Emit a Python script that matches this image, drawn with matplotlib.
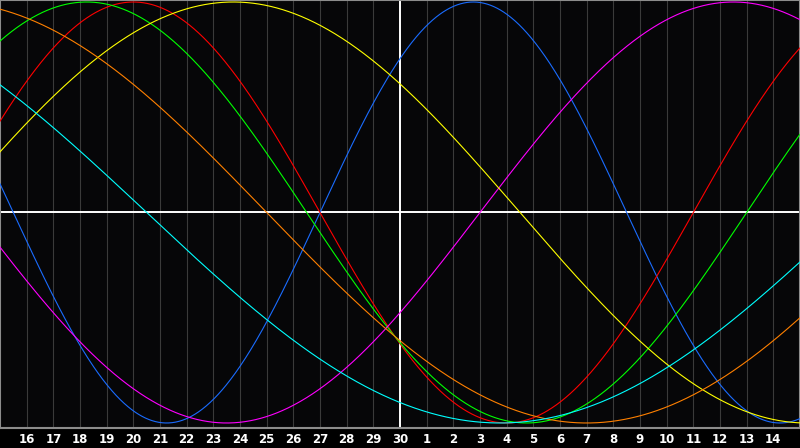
import numpy as np
import matplotlib
matplotlib.use("Agg")
from matplotlib import pyplot as plt

# Biorhythm chart, 30 day window centred on "today" (the 30th)
days_alive = 32525          # days since birth on the centre day
cycle_names = ["physical", "emotional", "intellectual", "intuitive",
               "aesthetic", "awareness", "spiritual"]
cycle_periods = [23, 28, 33, 38, 43, 48, 53]
cycle_colors = ["#1a6cff", "#ff0000", "#00ff00", "#ff00ff",
                "#ffff00", "#ff8000", "#00ffff"]
day_offsets = list(range(-14, 15))
day_labels = ["16", "17", "18", "19", "20", "21", "22", "23", "24", "25",
              "26", "27", "28", "29", "30", "1", "2", "3", "4", "5", "6",
              "7", "8", "9", "10", "11", "12", "13", "14"]

fig = plt.figure(figsize=(8, 4.48), dpi=100, facecolor="black")
ax = fig.add_axes([0, 20 / 448, 1, 428 / 448])
ax.set_facecolor("#060608")
ax.set_xlim(-15, 15)
ax.set_ylim(-1.0238, 1.0095)

# day grid
for d in day_offsets:
    if d != 0:
        ax.axvline(d, color="#3a3a3a", lw=0.8, zorder=1)
ax.axvline(0, color="white", lw=1.4, zorder=2)
ax.axhline(0, color="white", lw=1.4, zorder=2)

t = np.linspace(-15, 15, 1200)
for name, period, col in zip(cycle_names, cycle_periods, cycle_colors):
    ax.plot(t, np.sin(2 * np.pi * (days_alive + t) / period),
            color=col, lw=0.8, zorder=3, label=name)

ax.set_yticks([])
ax.set_xticks(day_offsets)
ax.set_xticklabels(day_labels, color="white", fontsize=8.5, fontweight="bold")
ax.tick_params(axis="x", length=0, pad=3.5)
for s in ax.spines.values():
    s.set_color("#8c8c8c")
    s.set_linewidth(1.5)

fig.savefig("out.png", dpi=100, facecolor="black")
